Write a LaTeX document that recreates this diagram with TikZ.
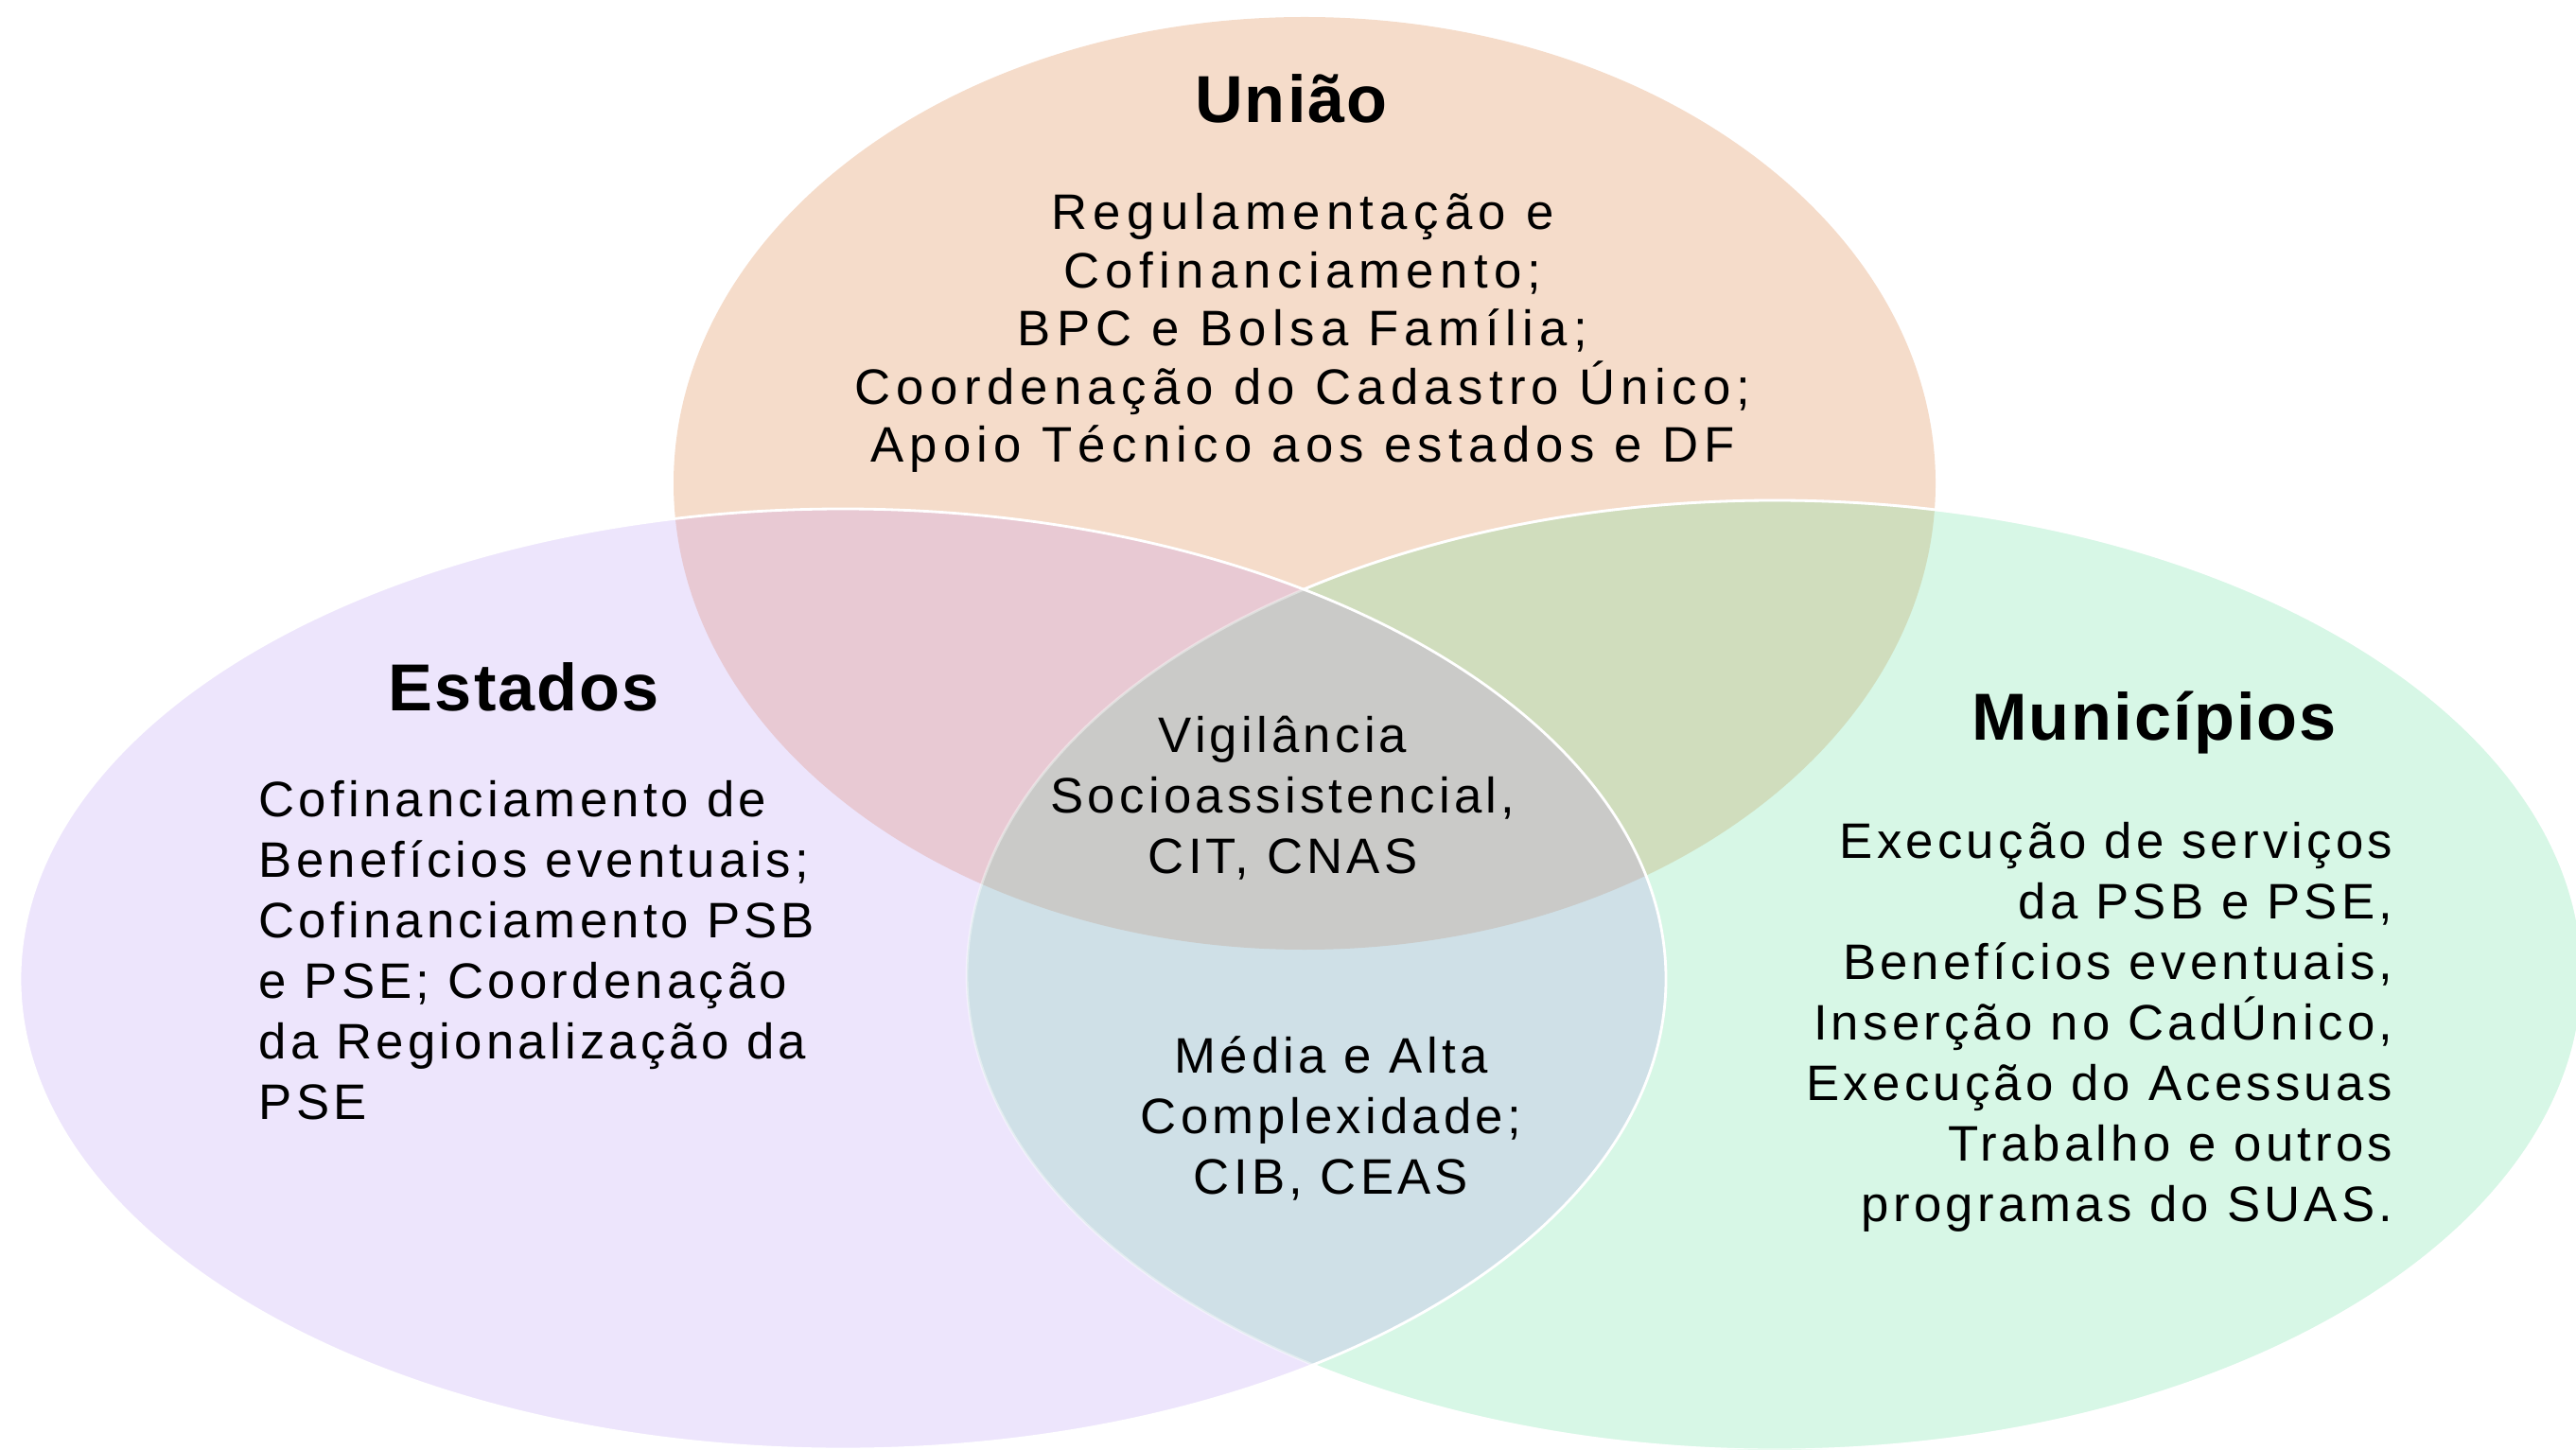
\documentclass[tikz,border=0pt]{standalone}
\usepackage{fontspec}
\setmainfont{Liberation Sans}[LetterSpace=8]
\newfontfamily\widefont{Liberation Sans}[LetterSpace=12]
\newfontfamily\titlefont{Liberation Sans}[LetterSpace=3]
\definecolor{uniaofill}{HTML}{F5DCCA}
\definecolor{estadosfill}{HTML}{EDE5FC}
\definecolor{municipiosfill}{HTML}{D7F7E6}
\definecolor{uefill}{HTML}{E8C9D3}
\definecolor{umfill}{HTML}{D0DDBD}
\definecolor{emfill}{HTML}{CFE0E7}
\definecolor{allfill}{HTML}{CACAC8}
\def\uniaopath{(13.79,10.21) ellipse [x radius=6.67, y radius=4.93]}
\def\estadospath{(8.91,4.97) ellipse [x radius=8.70, y radius=4.97]}
\def\municipiospath{(18.76,5.01) ellipse [x radius=8.54, y radius=5.02]}

\begin{document}
\begin{tikzpicture}[
  bodytext/.style={font=\fontsize{15}{18.2}\selectfont, align=center, inner sep=0pt},
  widetext/.style={font=\widefont\fontsize{15}{17.5}\selectfont, align=center, inner sep=0pt},
  titletext/.style={font=\titlefont\bfseries\fontsize{20}{24}\selectfont, inner sep=0pt},
  rim/.style={draw=white, line width=0.8pt}
]
\useasboundingbox (0,0) rectangle (27.23,15.32);
\clip (0,0) rectangle (27.23,15.32);

\fill[uniaofill] \uniaopath;
\fill[estadosfill] \estadospath;
\fill[municipiosfill] \municipiospath;
\begin{scope}
  \clip \uniaopath;
  \fill[uefill] \estadospath;
  \fill[umfill] \municipiospath;
\end{scope}
\begin{scope}
  \clip \estadospath;
  \fill[emfill] \municipiospath;
  \clip \municipiospath;
  \fill[allfill] \uniaopath;
\end{scope}

\draw[rim, draw opacity=0.4] \municipiospath;
\begin{scope}[even odd rule]
  \clip (0,0) rectangle (27.23,15.32) \estadospath;
  \draw[rim] \municipiospath;
\end{scope}
\draw[rim] \estadospath;

\node[titletext] (uniao) at (13.65,14.28) {União};
\node[widetext] (uniaotxt) at (13.77,11.80) {Regulamentação e\\Cofinanciamento;\\BPC e Bolsa Família;\\Coordenação do Cadastro Único;\\Apoio Técnico aos estados e DF};

\node[titletext] (estados) at (5.54,8.06) {Estados};
\node[bodytext, align=left, anchor=west] (estadostxt) at (2.73,5.27) {Cofinanciamento de\\Benefícios eventuais;\\Cofinanciamento PSB\\e PSE; Coordenação\\da Regionalização da\\PSE};

\node[titletext] (municipios) at (22.77,7.68) {Municípios};
\node[bodytext, align=right, anchor=east] (municipiostxt) at (25.30,4.46) {Execução de serviços\\da PSB e PSE,\\Benefícios eventuais,\\Inserção no CadÚnico,\\Execução do Acessuas\\Trabalho e outros\\programas do SUAS.};

\node[bodytext] (todos) at (13.56,6.88) {Vigilância\\Socioassistencial,\\CIT, CNAS};
\node[bodytext] (estmun) at (14.07,3.50) {Média e Alta\\Complexidade;\\CIB, CEAS};
\end{tikzpicture}
\end{document}
